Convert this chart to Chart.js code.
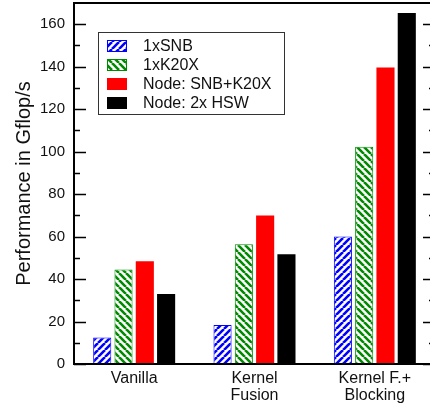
<!DOCTYPE html>
<html>
<head>
<meta charset="utf-8">
<script src="https://cdn.jsdelivr.net/npm/chart.js@4/dist/chart.umd.min.js"></script>
<style>
  html, body { margin: 0; padding: 0; background: #fff; }
  #wrap { width: 430px; height: 406px; overflow: hidden; }
</style>
</head>
<body>
<div id="wrap"><canvas id="c" width="440" height="406"></canvas></div>
<script>
// data
const categories = ['Vanilla', ['Kernel', 'Fusion'], ['Kernel F.+', 'Blocking']];
const seriesNames = ['1xSNB', '1xK20X', 'Node: SNB+K20X', 'Node: 2x HSW'];
const snb = [12.5, 18.4, 60.1];
const k20x = [44.5, 56.4, 102.3];
const nodeSnbK20x = [48.4, 69.9, 139.6];
const node2xHsw = [33, 51.7, 165.3];
const yTicks = [0, 20, 40, 60, 80, 100, 120, 140, 160];

const FONT = "'Liberation Sans', Arial, Helvetica, sans-serif";

// hatch fills
const hatch = (color, dir) => {
    const p = 7;
    const cv = document.createElement('canvas');
    cv.width = p; cv.height = p;
    const g = cv.getContext('2d');
    g.fillStyle = '#fff';
    g.fillRect(0, 0, p, p);
    g.strokeStyle = color;
    g.lineWidth = 2.6;
    g.beginPath();
    for (const k of [-p, 0, p]) {
        if (dir === '/') { g.moveTo(k, p); g.lineTo(k + p, 0); }
        else { g.moveTo(k, 0); g.lineTo(k + p, p); }
    }
    g.stroke();
    return g.createPattern(cv, 'repeat');
};

const ctx = document.getElementById('c').getContext('2d');
const blueHatch = hatch('#0000ff', '/');
const greenHatch = hatch('#008a00', '\\');

const colors = [blueHatch, greenHatch, '#ff0000', '#000000'];
const borders = ['#0000ff', '#008a00', '#ff0000', '#000000'];
const values = [snb, k20x, nodeSnbK20x, node2xHsw];

// frame, inside ticks and boxed legend
const extras = {
    id: 'extras',
    afterDatasetsDraw(chart) {
        const { ctx, chartArea: a, scales } = chart;
        const y = scales.y;
        ctx.save();
        ctx.strokeStyle = '#000';
        ctx.lineWidth = 2;
        ctx.strokeRect(a.left, a.top, a.right - a.left, a.bottom - a.top);

        ctx.lineWidth = 1.5;
        ctx.beginPath();
        yTicks.forEach((v, i) => {
            const py = Math.round(y.getPixelForValue(v)) + 0.5;
            ctx.moveTo(a.left, py); ctx.lineTo(a.left + 12, py);
            ctx.moveTo(a.right, py); ctx.lineTo(a.right - 12, py);
            const m = v + (yTicks[1] - yTicks[0]) / 2;
            if (m < y.max) {
                const pm = Math.round(y.getPixelForValue(m)) + 0.5;
                ctx.moveTo(a.left, pm); ctx.lineTo(a.left + 6, pm);
                ctx.moveTo(a.right, pm); ctx.lineTo(a.right - 6, pm);
            }
        });
        ctx.stroke();

        // legend
        const bx = 98, by = 32, bw = 186, bh = 82;
        ctx.fillStyle = '#fff';
        ctx.fillRect(bx, by, bw, bh);
        ctx.lineWidth = 1;
        ctx.strokeStyle = '#333';
        ctx.strokeRect(bx + 0.5, by + 0.5, bw, bh);
        ctx.font = '16px ' + FONT;
        ctx.textBaseline = 'middle';
        chart.data.datasets.forEach((ds, i) => {
            const cy = 46 + i * 19;
            ctx.fillStyle = ds.backgroundColor;
            ctx.fillRect(107, cy - 6, 20, 12);
            ctx.strokeStyle = ds.borderColor;
            ctx.strokeRect(107.5, cy - 5.5, 19, 11);
            ctx.fillStyle = '#111';
            ctx.fillText(ds.label, 143, cy + 1);
        });
        ctx.restore();
    }
};

new Chart(ctx, {
    type: 'bar',
    data: {
        labels: categories,
        datasets: seriesNames.map((name, i) => ({
            label: name,
            data: values[i],
            backgroundColor: colors[i],
            borderColor: borders[i],
            borderWidth: i < 2 ? 1 : 0,
            borderSkipped: false,
            categoryPercentage: 0.708,
            barPercentage: 0.85
        }))
    },
    options: {
        responsive: false,
        animation: false,
        layout: { padding: { top: 3, right: 5, left: 0, bottom: 0 } },
        plugins: {
            legend: { display: false },
            tooltip: { enabled: false }
        },
        scales: {
            x: {
                grid: { display: false, drawTicks: false },
                border: { display: false },
                ticks: {
                    color: '#111',
                    font: { family: FONT, size: 16, lineHeight: 1.05 },
                    padding: 6,
                    maxRotation: 0
                },
                afterFit: (s) => { s.height = 42; s.paddingLeft = 0; s.paddingRight = 0; }
            },
            y: {
                min: 0,
                max: 170,
                grid: { display: false, drawTicks: false },
                border: { display: false },
                afterBuildTicks: (s) => { s.ticks = yTicks.map(v => ({ value: v })); },
                ticks: {
                    color: '#111',
                    font: { family: FONT, size: 15 },
                    padding: 9
                },
                title: {
                    display: true,
                    text: 'Performance in Gflop/s',
                    color: '#111',
                    font: { family: FONT, size: 20 },
                    padding: { top: 12, bottom: 0 }
                },
                afterFit: (s) => { s.width = 74; s.paddingTop = 0; s.paddingBottom = 0; }
            }
        }
    },
    plugins: [extras]
});
</script>
</body>
</html>
